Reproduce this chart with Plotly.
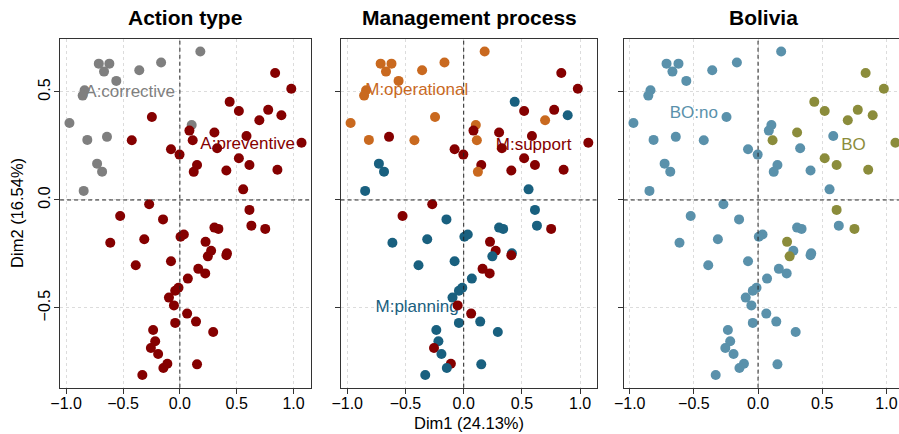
import plotly.graph_objects as go

# Individual coordinates on the first two MCA dimensions
dim1 = [0.180, -0.713, -0.620, -0.667, -0.357, -0.165, -0.559, -0.838, -0.855, -0.971,
        -0.814, -0.641, -0.728, -0.684, -0.846, 0.104, 0.838, 0.980, 0.438, 0.519,
        0.777, 0.699, 0.893, -0.246, 0.084, 0.304, 0.586, 0.113, -0.423, 1.070,
        0.328, -0.078, -0.003, 0.519, 0.612, 0.151, 0.122, 0.409, 0.858, 0.557,
        -0.270, 0.612, -0.525, -0.148, 0.304, 0.339, 0.629, 0.751, -0.612, -0.313,
        0.035, 0.006, 0.226, 0.275, 0.246, 0.414, 0.409, -0.388, -0.078, 0.162,
        0.223, 0.070, -0.012, -0.041, -0.096, -0.052, 0.064, -0.041, 0.142, 0.293,
        -0.235, -0.217, -0.255, -0.191, -0.110, -0.145, 0.151, -0.330]
dim2 = [0.687, 0.631, 0.631, 0.594, 0.600, 0.636, 0.551, 0.508, 0.483, 0.356,
        0.278, 0.292, 0.168, 0.131, 0.042, 0.347, 0.588, 0.515, 0.454, 0.412,
        0.417, 0.369, 0.392, 0.384, 0.321, 0.312, 0.296, 0.276, 0.276, 0.265,
        0.239, 0.235, 0.210, 0.193, 0.162, 0.162, 0.130, 0.136, 0.140, 0.049,
        -0.020, -0.046, -0.074, -0.090, -0.128, -0.134, -0.119, -0.134, -0.198, -0.182,
        -0.160, -0.170, -0.194, -0.235, -0.261, -0.247, -0.256, -0.302, -0.284, -0.319,
        -0.340, -0.364, -0.406, -0.420, -0.452, -0.488, -0.526, -0.569, -0.563, -0.611,
        -0.602, -0.654, -0.685, -0.713, -0.758, -0.778, -0.761, -0.810]

# Supplementary factors, one entry per individual
action_type = ["corrective"] * 16 + ["preventive"] * 62

management = ["operational"] * 11 + ["support"] + ["planning"] * 3 + [
    "operational", "support", "support", "planning", "support", "support",
    "operational", "planning", "operational", "support", "support", "support",
    "operational", "operational", "support", "support", "support", "support",
    "support", "support", "support", "operational", "support", "support",
    "planning", "support", "planning", "support", "planning", "planning",
    "planning", "planning", "support", "planning", "planning", "planning",
    "planning", "support", "support", "planning", "planning", "support",
    "planning", "planning", "support", "support", "planning", "planning",
    "planning", "planning", "support", "support", "planning", "planning",
    "planning", "planning", "planning", "support", "planning", "support",
    "planning", "planning", "planning"]

bo_rows = [17, 18, 19, 20, 21, 22, 23, 26, 28, 30, 34, 35, 39, 42, 48, 53, 55]
bolivia = ["BO" if i + 1 in bo_rows else "BO:no" for i in range(len(dim1))]

# Category labels and their positions on the factor map
action_labels = ["A:corrective", "A:preventive"]
action_lx = [-0.437, 0.596]
action_ly = [0.497, 0.255]
mgmt_labels = ["M:operational", "M:support", "M:planning"]
mgmt_lx = [-0.403, 0.600, -0.400]
mgmt_ly = [0.506, 0.252, -0.497]
bo_labels = ["BO:no", "BO"]
bo_lx = [-0.500, 0.744]
bo_ly = [0.398, 0.252]

panel_titles = ["Action type", "Management process", "Bolivia"]
x_ticks = [-1.0, -0.5, 0.0, 0.5, 1.0]
x_tick_text = ["\u22121.0", "\u22120.5", "0.0", "0.5", "1.0"]
y_ticks = [-0.5, 0.0, 0.5]
y_tick_text = ["\u22120.5", "0.0", "0.5"]

GREY = "#7f7f7f"
DARKRED = "#850000"
ORANGE = "#c9691f"
TEAL = "#19607f"
STEEL = "#5a91ab"
OLIVE = "#8b8c3b"

panels = [
    dict(groups=action_type,
         colors={"corrective": GREY, "preventive": DARKRED},
         labels=action_labels, lx=action_lx, ly=action_ly,
         label_colors=[GREY, DARKRED]),
    dict(groups=management,
         colors={"operational": ORANGE, "support": DARKRED, "planning": TEAL},
         labels=mgmt_labels, lx=mgmt_lx, ly=mgmt_ly,
         label_colors=[ORANGE, DARKRED, TEAL]),
    dict(groups=bolivia,
         colors={"BO": OLIVE, "BO:no": STEEL},
         labels=bo_labels, lx=bo_lx, ly=bo_ly,
         label_colors=[STEEL, OLIVE]),
]

W, H = 899, 434
x_domains = [(50.7 / W, 304 / W), (334.3 / W, 594 / W), (620.7 / W, 1.0)]
x_ranges = [(-1.053, 1.150), (-1.057, 1.148), (-1.046, 1.098)]
title_centres = [177.4 / W, 464.2 / W, 762.0 / W]
y_domain = (1 - 387.7 / H, 1 - 39 / H)
y_range = (-0.869, 0.745)

FONT = "Liberation Sans, Arial, Helvetica, sans-serif"
AXIS_COLOR = "#333333"
ZERO_COLOR = "#222222"
GRID_COLOR = "#dcdcdc"

fig = go.Figure()
shapes = []
annotations = []
layout = {}

for k, p in enumerate(panels, start=1):
    xa = "x" if k == 1 else f"x{k}"
    ya = "y" if k == 1 else f"y{k}"
    # category labels go underneath the points
    fig.add_trace(go.Scatter(
        x=p["lx"], y=p["ly"], text=p["labels"], mode="text",
        textfont=dict(family=FONT, size=17, color=p["label_colors"]),
        textposition="middle center", hoverinfo="skip",
        xaxis=xa, yaxis=ya, showlegend=False))
    fig.add_trace(go.Scatter(
        x=dim1, y=dim2, mode="markers",
        marker=dict(size=10, color=[p["colors"][g] for g in p["groups"]],
                    line=dict(width=0)),
        xaxis=xa, yaxis=ya, showlegend=False))

    layout["xaxis" if k == 1 else f"xaxis{k}"] = dict(
        domain=list(x_domains[k - 1]), range=list(x_ranges[k - 1]),
        anchor=ya, tickmode="array", tickvals=x_ticks, ticktext=x_tick_text,
        ticks="outside", ticklen=5, tickcolor=AXIS_COLOR, tickwidth=1,
        ticklabelstandoff=-4,
        tickfont=dict(family=FONT, size=16, color="black"),
        showline=True, linecolor=AXIS_COLOR, linewidth=1, mirror=True,
        showgrid=True, gridcolor=GRID_COLOR, griddash="dot", gridwidth=1,
        zeroline=False, fixedrange=True)
    layout["yaxis" if k == 1 else f"yaxis{k}"] = dict(
        domain=list(y_domain), range=list(y_range), anchor=xa,
        tickmode="array", tickvals=y_ticks, ticktext=y_tick_text,
        tickangle=-90, showticklabels=(k == 1),
        ticks="outside", ticklen=5, tickcolor=AXIS_COLOR, tickwidth=1,
        ticklabelstandoff=-2,
        tickfont=dict(family=FONT, size=16, color="black"),
        showline=True, linecolor=AXIS_COLOR, linewidth=1, mirror=(k != 3),
        showgrid=True, gridcolor=GRID_COLOR, griddash="dot", gridwidth=1,
        zeroline=False, fixedrange=True)

    # dashed reference lines through the origin
    shapes.append(dict(type="line", xref=xa, yref=f"{ya} domain",
                       x0=0, x1=0, y0=0, y1=1,
                       line=dict(color=ZERO_COLOR, width=1, dash="4px,3px")))
    shapes.append(dict(type="line", xref=f"{xa} domain", yref=ya,
                       x0=0, x1=1, y0=0, y1=0,
                       line=dict(color=ZERO_COLOR, width=1, dash="4px,3px")))

    annotations.append(dict(
        text=f"<b>{panel_titles[k - 1]}</b>", xref="paper", yref="paper",
        x=title_centres[k - 1], y=1 - 17 / H, xanchor="center", yanchor="middle",
        showarrow=False, font=dict(family=FONT, size=21, color="black")))

annotations.append(dict(
    text="Dim1 (24.13%)", xref="paper", yref="paper", x=464 / W, y=1 - 422.5 / H,
    xanchor="center", yanchor="middle", showarrow=False,
    font=dict(family=FONT, size=16.5, color="black")))
annotations.append(dict(
    text="Dim2 (16.54%)", xref="paper", yref="paper", x=7 / W, y=1 - 213 / H,
    xanchor="center", yanchor="middle", textangle=-90, showarrow=False,
    font=dict(family=FONT, size=16.5, color="black")))

fig.update_layout(
    width=W, height=H,
    margin=dict(l=0, r=0, t=0, b=0),
    paper_bgcolor="white", plot_bgcolor="white",
    font=dict(family=FONT, color="black"),
    shapes=shapes, annotations=annotations,
    **layout)

fig.write_html("out.html")
